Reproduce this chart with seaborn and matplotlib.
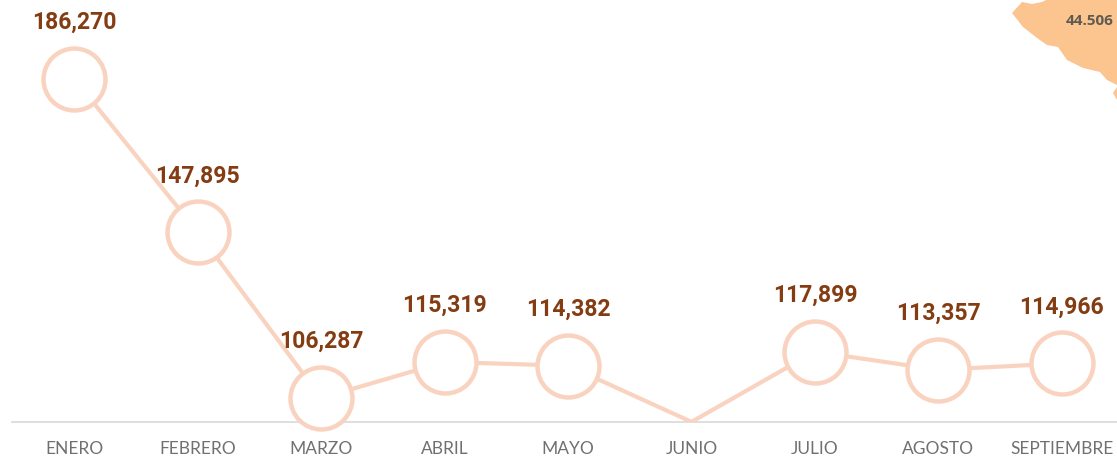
import pandas as pd
import matplotlib.pyplot as plt
from matplotlib.patches import Polygon
import seaborn as sns

meses = ['ENERO', 'FEBRERO', 'MARZO', 'ABRIL', 'MAYO', 'JUNIO', 'JULIO', 'AGOSTO', 'SEPTIEMBRE']
totales = [186270, 147895, 106287, 115319, 114382, 100300, 117899, 113357, 114966]
# June has no circle and no label in the picture
etiquetas = ['186,270', '147,895', '106,287', '115,319', '114,382', '', '117,899', '113,357', '114,966']

# piece of the map in the top right corner, in figure pixels
mapa_x = [1012, 1022, 1032, 1042, 1046, 1117, 1117, 1113, 1117, 1117, 1107, 1100, 1083, 1067, 1058, 1047, 1037, 1023]
mapa_y = [13, 2, 4, 2, 0, 0, 87, 93, 100, 85, 80, 72, 68, 60, 47, 45, 38, 27]
mapa_texto = '44.506'

LINEA = '#F9D3BF'
W, H = 1117, 457

sns.set_theme(style='white')

df = pd.DataFrame({'mes': meses, 'total': totales, 'etiqueta': etiquetas})
con_marca = df[df['etiqueta'] != '']

fig = plt.figure(figsize=(W / 100, H / 100), dpi=100)
ax = fig.add_axes([12 / W, (H - 422) / H, (W - 12) / W, 422 / H])

fig.add_artist(Polygon([(x / W, 1 - y / H) for x, y in zip(mapa_x, mapa_y)],
                       closed=True, facecolor='#FCC48F', edgecolor='none',
                       transform=fig.transFigure))
fig.text(1090 / W, 1 - 21 / H, mapa_texto, ha='center', va='center', fontsize=11,
         fontweight='bold', color='#5F5A50', family='Open Sans', zorder=10)

sns.lineplot(data=df, x='mes', y='total', sort=False, color=LINEA, linewidth=3, ax=ax, zorder=3)
sns.scatterplot(data=con_marca, x='mes', y='total', s=1990, color='white', edgecolor=LINEA,
                linewidth=3.2, ax=ax, zorder=4, clip_on=False)

for _, fila in con_marca.iterrows():
    ax.annotate(fila['etiqueta'], (fila['mes'], fila['total']), xytext=(0, 40.5),
                textcoords='offset points', ha='center', va='center', fontsize=16.6,
                fontweight='bold', color='#843C12', family='Roboto', zorder=5)

ax.set_xlim(-0.505, 8.447)
ax.set_ylim(100269, 206087)
ax.set_xlabel('')
ax.set_ylabel('')
ax.set_yticks([])
ax.tick_params(axis='x', length=0, pad=14)
for lab in ax.get_xticklabels():
    lab.set_fontfamily('Lato')
    lab.set_fontsize(12.5)
    lab.set_color('#707070')

sns.despine(ax=ax, left=True, top=True, right=True)
ax.spines['bottom'].set_color('#D9D9D9')
ax.spines['bottom'].set_linewidth(1.2)
ax.patch.set_alpha(0)

plt.savefig('out.png', dpi=100)
plt.close()
